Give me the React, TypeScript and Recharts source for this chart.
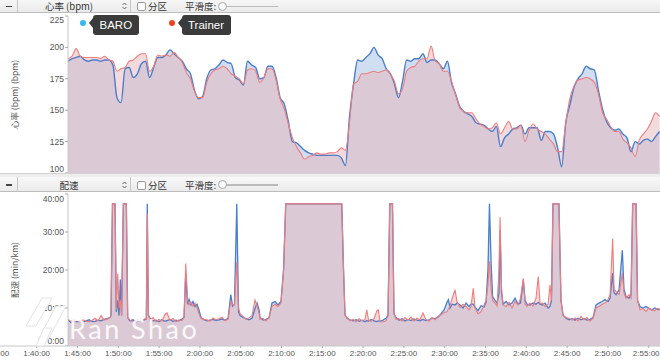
import React from "react";
import { ComposedChart, LineChart, Area, Line, XAxis, YAxis, Legend } from "recharts";

// heart rate, sampled every 30 s starting 1:43:50 (clock seconds)
const HR_START = 6230;
const HR_STEP = 30;

const hrBaro = [
  189, 191, 192, 193, 190, 189, 190, 190, 189, 190,
  190, 186, 160, 156, 183, 184, 176, 179, 187, 189,
  176, 184, 192, 192, 194, 198, 195, 192, 189, 183,
  179, 166, 159, 161, 175, 182, 183, 186, 190, 188,
  187, 176, 174, 170, 189, 186, 184, 175, 176, 185,
  185, 176, 160, 155, 141, 125, 124, 121, 118, 116,
  115, 114, 114, 114, 114, 114, 114, 112, 106, 145,
  171, 190, 189, 192, 195, 200, 194, 191, 183, 179,
  171, 160, 173, 190, 189, 191, 191, 195, 188, 190,
  190, 187, 183, 189, 172, 163, 153, 149, 147, 145,
  140, 139, 138, 135, 133, 137, 121, 128, 131, 135,
  136, 138, 131, 136, 136, 136, 126, 133, 133, 131,
  120, 105, 140, 154, 168, 175, 179, 185, 183, 182,
  166, 151, 141, 136, 134, 135, 131, 128, 117, 125,
  123, 126, 127, 125, 129, 133,
];

const hrTrainer = [
  191, 193, 199, 193, 192, 192, 192, 192, 191, 193,
  190, 189, 181, 183, 184, 189, 190, 193, 195, 195,
  181, 185, 194, 193, 194, 193, 196, 192, 188, 180,
  175, 165, 160, 160, 172, 179, 182, 183, 185, 183,
  179, 177, 175, 171, 182, 183, 181, 172, 176, 183,
  183, 174, 159, 151, 139, 128, 121, 116, 111, 113,
  114, 116, 115, 115, 116, 116, 117, 120, 118, 140,
  171, 173, 179, 179, 180, 181, 180, 181, 182, 179,
  173, 163, 167, 181, 184, 185, 189, 191, 191, 201,
  189, 187, 181, 181, 173, 162, 152, 149, 148, 148,
  143, 139, 137, 135, 136, 140, 131, 136, 141, 135,
  135, 138, 125, 134, 139, 135, 133, 131, 127, 123,
  117, 117, 140, 159, 169, 174, 175, 176, 175, 172,
  163, 148, 143, 137, 133, 133, 127, 124, 120, 113,
  126, 131, 135, 141, 148, 145,
];

const hrTicks = [100, 125, 150, 175, 200, 225];

// pace (min/km) at clock seconds
const paceTimes = [
  6230, 6252, 6274, 6296, 6318, 6340, 6363, 6385, 6407, 6429,
  6451, 6473, 6495, 6517, 6539, 6546, 6557, 6576, 6585, 6596,
  6605, 6615, 6624, 6637, 6659, 6669, 6686, 6708, 6730, 6752,
  6774, 6796, 6806, 6813, 6821, 6833, 6855, 6877, 6899, 6921,
  6943, 6958, 6980, 7002, 7024, 7046, 7068, 7083, 7096, 7109,
  7120, 7135, 7149, 7164, 7179, 7193, 7208, 7230, 7252, 7274,
  7296, 7318, 7340, 7363, 7385, 7407, 7427, 7440, 7454, 7471,
  7484, 7495, 7517, 7539, 7561, 7583, 7605, 7620, 7635, 7642,
  7664, 7686, 7708, 7730, 7752, 7774, 7796, 7815, 7831, 8243,
  8256, 8267, 8282, 8304, 8326, 8348, 8370, 8392, 8414, 8427,
  8440, 8458, 8480, 8502, 8512, 8524, 8546, 8568, 8583, 8596,
  8616, 8627, 8642, 8664, 8686, 8708, 8730, 8752, 8774, 8796,
  8818, 8840, 8862, 8885, 8907, 8929, 8951, 8973, 8995, 9017,
  9027, 9039, 9054, 9076, 9091, 9113, 9135, 9157, 9179, 9193,
  9210, 9223, 9245, 9267, 9289, 9304, 9318, 9329, 9341, 9352,
  9370, 9385, 9399, 9407, 9418, 9429, 9451, 9473, 9495, 9517,
  9539, 9557, 9578, 9591, 9605, 9627, 9649, 9671, 9688, 9701,
  9716, 9738, 9760, 9774, 9785, 9796, 9840, 9855, 9870, 9892,
  9914, 9936, 9958, 9980, 10002, 10024, 10046, 10068, 10091, 10113,
  10135, 10157, 10179, 10201, 10216, 10235, 10245, 10260, 10282, 10306,
  10318, 10333, 10355, 10370, 10382, 10407, 10418, 10436, 10458, 10480,
  10502, 10524, 10546, 10568, 10583,
];

const paceBaro = [
  6.8, 6.2, 6.9, 6.4, 6.7, 6.3, 6.6, 6.9, 6.4, 6.5,
  6.8, 6.6, 7.0, 7.2, 7.5, 8.0, 37.4, 37.4, 9.0, 12.0,
  8.0, 17.5, 8.0, 37.4, 37.4, 7.5, 6.6, 6.9, 6.4, 6.7,
  6.5, 7.0, 7.0, 37.4, 8.0, 7.3, 6.6, 6.8, 6.4, 6.9,
  6.5, 6.7, 7.0, 6.5, 6.8, 6.6, 7.1, 7.5, 19.1, 11.0,
  12.3, 10.8, 11.7, 10.4, 11.0, 9.5, 7.5, 6.9, 6.6, 6.8,
  7.0, 6.7, 6.9, 7.1, 6.8, 7.3, 13.5, 10.5, 11.0, 37.4,
  9.0, 8.0, 7.5, 7.2, 6.9, 7.3, 9.8, 11.3, 9.5, 7.5,
  6.8, 7.0, 7.4, 11.3, 11.7, 10.8, 11.7, 20.0, 37.4, 37.4,
  20.0, 8.2, 7.3, 6.9, 6.6, 6.9, 6.5, 6.8, 6.4, 6.7,
  6.5, 7.0, 6.6, 6.4, 6.6, 6.5, 6.8, 7.3, 8.0, 37.4,
  37.4, 8.5, 7.5, 6.8, 7.2, 6.6, 7.0, 6.7, 7.1, 6.8,
  6.6, 7.0, 6.7, 6.9, 7.3, 7.2, 7.6, 8.5, 9.5, 11.5,
  12.2, 10.0, 11.0, 10.8, 11.3, 10.8, 10.0, 11.3, 10.4, 11.0,
  11.0, 10.2, 9.3, 10.6, 10.3, 11.5, 20.0, 37.4, 22.0, 13.0,
  12.0, 11.3, 14.0, 30.4, 14.0, 11.0, 11.7, 10.8, 11.3, 12.6,
  11.0, 11.3, 17.4, 12.0, 11.0, 10.8, 11.3, 11.0, 11.5, 11.0,
  10.8, 11.3, 10.0, 10.4, 12.0, 37.4, 37.4, 12.0, 8.2, 7.3,
  6.9, 7.2, 6.8, 7.3, 6.9, 7.2, 6.8, 7.0, 7.5, 10.8,
  11.3, 11.7, 12.2, 11.7, 12.6, 19.1, 14.0, 13.5, 14.8, 25.2,
  15.0, 13.0, 12.6, 13.5, 37.4, 37.4, 12.0, 10.4, 10.0, 10.4,
  9.9, 9.5, 10.0, 9.5, 9.7,
];

const paceTrainer = [
  7.0, 6.5, 6.6, 6.8, 6.3, 6.9, 6.5, 6.4, 6.7, 7.3,
  6.6, 8.0, 6.8, 7.0, 7.6, 8.0, 37.4, 37.4, 9.5, 19.0,
  10.0, 12.0, 8.0, 37.4, 37.4, 7.5, 6.8, 6.4, 6.7, 6.9,
  6.5, 7.2, 7.0, 34.8, 8.5, 6.8, 7.5, 6.4, 7.0, 6.6,
  8.3, 8.7, 6.8, 7.2, 6.4, 6.9, 6.7, 7.5, 21.7, 12.0,
  10.8, 11.5, 10.5, 11.3, 10.0, 8.5, 7.2, 7.0, 6.9, 6.5,
  7.4, 6.9, 7.2, 7.6, 6.7, 7.0, 11.7, 10.8, 10.8, 22.0,
  10.0, 8.5, 7.8, 7.0, 7.4, 8.0, 12.1, 10.5, 8.5, 7.0,
  7.3, 6.6, 7.5, 10.4, 11.0, 10.4, 11.3, 20.0, 37.4, 37.4,
  20.0, 8.0, 7.5, 6.6, 7.0, 6.4, 7.2, 6.6, 7.0, 9.5,
  6.8, 6.5, 7.2, 9.3, 9.5, 6.4, 6.3, 6.6, 8.0, 37.4,
  37.4, 8.5, 7.0, 7.2, 6.6, 7.5, 6.8, 7.6, 6.6, 7.3,
  6.9, 8.7, 7.0, 6.5, 7.5, 6.9, 7.8, 8.2, 8.8, 9.0,
  9.8, 10.5, 12.5, 14.8, 11.5, 10.2, 11.0, 10.4, 9.5, 10.3,
  15.2, 10.0, 8.5, 9.0, 10.8, 12.0, 16.0, 22.2, 15.0, 12.0,
  11.3, 10.5, 20.0, 33.9, 15.0, 10.8, 10.4, 11.5, 10.0, 11.7,
  10.8, 12.5, 17.8, 11.0, 10.4, 11.3, 10.5, 12.5, 18.3, 11.0,
  11.3, 10.4, 11.0, 16.1, 12.0, 37.4, 37.4, 12.0, 8.0, 7.5,
  7.3, 6.8, 7.4, 6.6, 7.8, 6.9, 7.5, 6.5, 7.3, 10.0,
  10.4, 11.0, 11.3, 12.2, 13.5, 28.3, 15.0, 14.3, 13.5, 19.1,
  14.0, 12.6, 13.5, 12.6, 37.4, 37.4, 12.0, 9.5, 9.9, 9.1,
  10.0, 9.5, 9.3, 9.9, 9.5,
];

const paceTicks = [0, 10, 20, 30, 40];

const timeTicks = [
  5700, 6000, 6300, 6600, 6900, 7200, 7500, 7800, 8100,
  8400, 8700, 9000, 9300, 9600, 9900, 10200, 10500,
];

// visible time window of the plots and of the wider axis strip
const T_MIN = 6230;
const T_MAX = 10583;
const AXIS_MIN = 5583;
const AXIS_MAX = 10730;

const hrData = hrBaro.map((b, i) => ({ t: HR_START + i * HR_STEP, baro: b, trainer: hrTrainer[i] }));
const paceData = paceTimes.map((t, i) => ({ t, baro: paceBaro[i], trainer: paceTrainer[i] }));

const BARO_LINE = "#4A7DCB";
const TRAINER_LINE = "#F27C7C";
const BARO_FILL = "#CFDFF1";
const TRAINER_FILL = "rgb(231,181,187)";
const DOT: Record<string, string> = { BARO: "#38B6F1", Trainer: "#F0441F" };

const TICK_FONT = '"Liberation Sans", Arial, sans-serif';
const CJK = '"Noto Sans CJK SC", "Noto Sans", sans-serif';

const pad = (n: number) => (n < 10 ? "0" + n : "" + n);
const fmtClock = (s: number) => {
  const h = Math.floor(s / 3600);
  const m = Math.floor((s % 3600) / 60);
  return `${h}:${pad(m)}:${pad(s % 60)}`;
};
const fmtPace = (v: number) => `${Math.floor(v)}:${pad(Math.round((v % 1) * 60))}`;

// end labels sit slightly inside the plot
const makeTick = (nudge: Record<number, number>, fmt: (v: number) => string) => (props: any) => {
  const { x, y, payload } = props;
  const dy = nudge[payload.value] ?? 0;
  return (
    <text x={x} y={y + dy} dy="0.35em" textAnchor="end" fontSize={8.5} fill="#555" fontFamily={TICK_FONT}>
      {fmt(payload.value)}
    </text>
  );
};

const TimeTick = (props: any) => {
  const { x, y, payload } = props;
  const last = payload.value === timeTicks[timeTicks.length - 1];
  return (
    <text x={x + (last ? -2.5 : 0)} y={y} dy="0.71em" textAnchor="middle" fontSize={8} fill="#555" fontFamily={TICK_FONT}>
      {fmtClock(payload.value)}
    </text>
  );
};

const axisTitle = (text: string) => (props: any) => {
  const vb = props.viewBox || { x: 0, y: 0, height: 0 };
  const cx = 14;
  const cy = vb.y + vb.height / 2;
  return (
    <text
      x={cx}
      y={cy}
      transform={`rotate(-90 ${cx} ${cy})`}
      textAnchor="middle"
      dominantBaseline="central"
      fontSize={8.5}
      fill="#555"
      fontFamily={CJK}
    >
      {text}
    </text>
  );
};

const LegendBox = (props: any) => {
  const items = (props.payload || []).filter((p: any) => p.type !== "none");
  return (
    <div style={{ position: "relative", width: 300, height: 26 }}>
      {items.map((p: any, i: number) => (
        <div
          key={p.value}
          style={{ position: "absolute", left: i === 0 ? 80 : 168.5, top: 0, display: "flex", alignItems: "flex-start" }}
        >
          <span style={{ width: 6, height: 6, borderRadius: 3, background: DOT[p.value], marginTop: 6.7 }} />
          <span
            style={{
              width: 0,
              height: 0,
              marginLeft: 3,
              marginTop: 4.7,
              borderTop: "5px solid transparent",
              borderBottom: "5px solid transparent",
              borderRight: "4px solid #3B3B3B",
            }}
          />
          <span
            style={{
              background: "#3B3B3B",
              color: "#fff",
              borderRadius: 3,
              height: 20,
              lineHeight: "20px",
              padding: "0 6.5px",
              marginTop: 2,
              fontSize: 11.5,
              fontFamily: TICK_FONT,
            }}
          >
            {p.value}
          </span>
        </div>
      ))}
    </div>
  );
};

const Header = ({ top, title, textTop }: { top: number; title: string; textTop: number }) => (
  <div
    style={{
      position: "absolute",
      left: 0,
      top,
      width: 660,
      height: 14,
      background: "linear-gradient(#F8F8F8, #EBEBEB)",
      borderBottom: "1px solid #BDBDBD",
      fontFamily: CJK,
      fontSize: 9.5,
      color: "#333",
    }}
  >
    <div style={{ position: "absolute", left: 0, top: 0, width: 17, height: 14, borderRight: "1px solid #C4C4C4" }}>
      <div style={{ position: "absolute", left: 6, top: textTop - 0.5, width: 6, height: 1.5, background: "#444" }} />
    </div>
    <div style={{ position: "absolute", left: 18, width: 102, top: textTop - 7, height: 14, lineHeight: "14px", textAlign: "center" }}>
      {title}
    </div>
    <svg style={{ position: "absolute", left: 121, top: textTop - 5 }} width={7} height={10}>
      <polyline points="1.5,4 3.5,2 5.5,4" fill="none" stroke="#666" strokeWidth={1} />
      <polyline points="1.5,6 3.5,8 5.5,6" fill="none" stroke="#666" strokeWidth={1} />
    </svg>
    <div style={{ position: "absolute", left: 130, top: 0, width: 1, height: 14, background: "#C8C8C8" }} />
    <div
      style={{
        position: "absolute",
        left: 137,
        top: textTop - 4,
        width: 7,
        height: 7,
        border: "1px solid #9A9A9A",
        borderRadius: 2,
        background: "#fff",
      }}
    />
    <div style={{ position: "absolute", left: 148, top: textTop - 7, height: 14, lineHeight: "14px" }}>分区</div>
    <div style={{ position: "absolute", left: 185, top: textTop - 7, height: 14, lineHeight: "14px" }}>平滑度:</div>
    <div style={{ position: "absolute", left: 225, top: textTop - 0.5, width: 53, height: 1.5, background: "#BBBBBB" }} />
    <div
      style={{
        position: "absolute",
        left: 217.5,
        top: textTop - 4.5,
        width: 7,
        height: 7,
        borderRadius: "50%",
        border: "1px solid #A8A8A8",
        background: "#fff",
      }}
    />
  </div>
);

const yAxisCommon = {
  width: 68,
  tickSize: 3,
  tickMargin: 1,
  interval: 0 as const,
  axisLine: { stroke: "#C8C8C8" },
  tickLine: { stroke: "#AAAAAA" },
  allowDataOverflow: true,
};

const App = () => {
  return (
    <div
      style={{
        position: "absolute",
        left: 0,
        top: 0,
        width: 660,
        height: 364,
        overflow: "hidden",
        background: "#fff",
      }}
    >
      <Header top={-2} title="心率 (bpm)" textTop={8} />

      {/* heart rate */}
      <div style={{ position: "absolute", left: 0, top: 13 }}>
        <ComposedChart width={660} height={160} data={hrData} margin={{ top: 3, right: 0, bottom: 0, left: 0 }}>
          <XAxis dataKey="t" type="number" domain={[T_MIN, T_MAX]} hide allowDataOverflow />
          <YAxis
            {...yAxisCommon}
            domain={[100, 225]}
            ticks={hrTicks}
            tick={makeTick({ 225: 4.5, 100: -3.5 }, (v) => String(v))}
            label={axisTitle("心率 (bpm) (bpm)")}
          />
          <Area dataKey="baro" type="monotone" stroke="none" fill={BARO_FILL} fillOpacity={1} legendType="none" isAnimationActive={false} />
          <Area dataKey="trainer" type="monotone" stroke="none" fill={TRAINER_FILL} fillOpacity={0.5} legendType="none" isAnimationActive={false} />
          <Line dataKey="baro" name="BARO" type="monotone" stroke={BARO_LINE} strokeWidth={1.4} dot={false} isAnimationActive={false} />
          <Line dataKey="trainer" name="Trainer" type="monotone" stroke={TRAINER_LINE} strokeWidth={1.1} dot={false} isAnimationActive={false} />
          <Legend content={LegendBox} layout="horizontal" verticalAlign="middle" align="center" wrapperStyle={{ top: 0, left: 0, width: 300 }} />
        </ComposedChart>
      </div>

      <div style={{ position: "absolute", left: 0, top: 173, width: 660, height: 3, background: "#EEEEEE", borderTop: "1px solid #D2D2D2" }} />
      <Header top={177} title="配速" textTop={7.5} />

      {/* pace */}
      <div style={{ position: "absolute", left: 0, top: 192 }}>
        <ComposedChart width={660} height={154} data={paceData} margin={{ top: 2, right: 0, bottom: 0, left: 0 }}>
          <XAxis dataKey="t" type="number" domain={[T_MIN, T_MAX]} hide allowDataOverflow />
          <YAxis
            {...yAxisCommon}
            domain={[0, 40]}
            ticks={paceTicks}
            tick={makeTick({ 40: 5.5, 0: -4.5 }, fmtPace)}
            label={axisTitle("配速 (min/km)")}
          />
          <Area dataKey="baro" type="linear" stroke="none" fill={BARO_FILL} fillOpacity={1} isAnimationActive={false} />
          <Area dataKey="trainer" type="linear" stroke="none" fill={TRAINER_FILL} fillOpacity={0.5} isAnimationActive={false} />
          <Line dataKey="baro" type="linear" stroke={BARO_LINE} strokeWidth={1.3} dot={false} isAnimationActive={false} />
          <Line dataKey="trainer" type="linear" stroke={TRAINER_LINE} strokeWidth={1.1} dot={false} isAnimationActive={false} />
        </ComposedChart>
      </div>

      {/* shared time axis, wider than the plots */}
      <div style={{ position: "absolute", left: -20, top: 345 }}>
        <LineChart width={700} height={22} data={[{ t: AXIS_MIN }, { t: AXIS_MAX }]} margin={{ top: 0, right: 0, bottom: 0, left: 0 }}>
          <XAxis
            dataKey="t"
            type="number"
            domain={[AXIS_MIN, AXIS_MAX]}
            ticks={timeTicks}
            interval={0}
            height={21}
            tickSize={2}
            tickMargin={2}
            axisLine={{ stroke: "#C8C8C8" }}
            tickLine={{ stroke: "#AAAAAA" }}
            tick={TimeTick}
            allowDataOverflow
          />
        </LineChart>
      </div>

      {/* watermark */}
      <svg style={{ position: "absolute", left: 22, top: 296 }} width={50} height={54}>
        <polygon points="20,2 30,2 14,30 4,30" fill="#fff" stroke="#E4E4E4" strokeWidth={1} />
        <polygon points="34,10 44,10 26,44 16,44" fill="#fff" stroke="#E4E4E4" strokeWidth={1} />
        <polygon points="22,32 30,32 22,50 14,50" fill="#fff" stroke="#E4E4E4" strokeWidth={1} />
      </svg>
      <div
        style={{
          position: "absolute",
          left: 69,
          top: 315,
          fontFamily: "Lato, sans-serif",
          fontWeight: 400,
          fontSize: 27,
          lineHeight: 1,
          letterSpacing: 2.5,
          color: "rgba(255,255,255,0.88)",
          whiteSpace: "nowrap",
        }}
      >
        Ran Shao
      </div>
    </div>
  );
};

export default App;
